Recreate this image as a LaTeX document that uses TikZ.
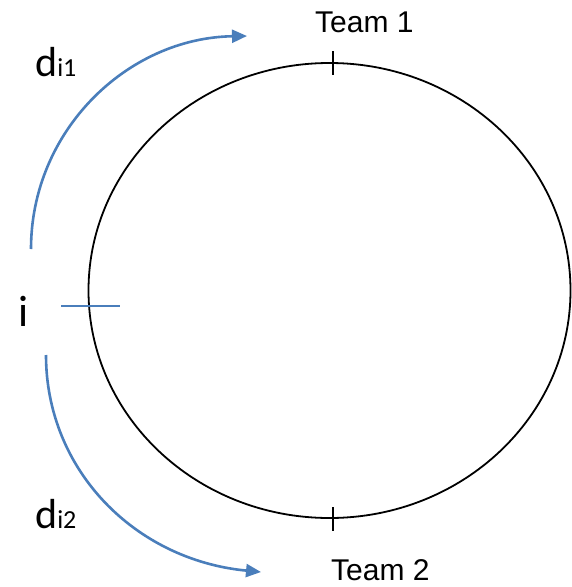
\documentclass[tikz,border=0pt]{standalone}
\usepackage{fontspec}
\setmainfont{Liberation Sans}
\newfontfamily\calfont{Carlito}
\usetikzlibrary{arrows.meta}
\definecolor{arcblue}{HTML}{4A7EBB}
\begin{document}
\begin{tikzpicture}[x=1pt,y=-1pt,
  ring/.style={draw=black,line width=1.8pt},
  tickmark/.style={draw=black,line width=1.3pt},
  bluetick/.style={draw=arcblue,line width=1.4pt},
  bluearc/.style={draw=arcblue,line width=2.6pt,-{Triangle[length=15pt,width=13pt]}},
  teamlabel/.style={inner sep=0pt,anchor=base west,font=\fontsize{30}{30}\selectfont},
  biglabel/.style={inner sep=0pt,anchor=base west}]
\useasboundingbox (0,0) rectangle (571,587);
\draw[ring] (329.5,290.5) ellipse [x radius=241, y radius=227.5];
% ticks
\coordinate (t1a) at (333,51); \coordinate (t1b) at (333,75);
\draw[tickmark] (t1a) -- (t1b);
\coordinate (t2a) at (333,507); \coordinate (t2b) at (333,531);
\draw[tickmark] (t2a) -- (t2b);
\coordinate (ia) at (61,306); \coordinate (ib) at (120,306);
\draw[bluetick] (ia) -- (ib);
% arcs
\coordinate (s1) at (31,249); \coordinate (e1) at (247,36);
\draw[bluearc] (s1) .. controls (31,131) and (127,38) .. (e1);
\coordinate (s2) at (46,355); \coordinate (e2) at (261,572);
\draw[bluearc] (s2) .. controls (46,470) and (135,560) .. (e2);
% labels
\node[teamlabel] (team1) at (315,32) {Team 1};
\node[teamlabel] (team2) at (331,580) {Team 2};
\node[biglabel] (d1) at (35,76) {\calfont\fontsize{42}{42}\selectfont d\fontsize{26}{26}\selectfont i1};
\node[biglabel] (d2) at (35,528) {\calfont\fontsize{42}{42}\selectfont d\fontsize{26}{26}\selectfont i2};
\node[biglabel] (i) at (18,326) {\calfont\fontsize{44}{44}\selectfont i};
\end{tikzpicture}
\end{document}
